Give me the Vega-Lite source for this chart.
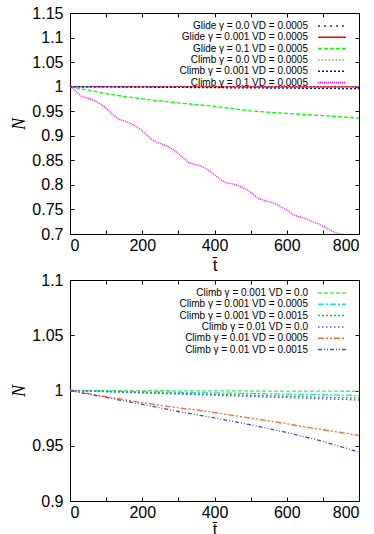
{
  "$schema": "https://vega.github.io/schema/vega-lite/v6.json",
  "padding": {"left": 10, "top": 4, "right": 5, "bottom": 0},
  "autosize": {"type": "pad"},
  "config": {
    "font": "Liberation Sans",
    "view": {"stroke": "#000000", "strokeWidth": 1},
    "axis": {"grid": false, "domain": false, "tickColor": "#000000", "tickSize": -4, "tickWidth": 1, "labelFontSize": 16, "labelColor": "#000000", "labelPadding": 11, "titleFontWeight": "normal", "titleColor": "#000000"},
    "legend": {"orient": "none", "legendX": 256, "legendY": 7, "symbolType": "M-2.8,0H2.8", "symbolSize": 100, "symbolStrokeWidth": 1.5, "symbolFillColor": "transparent", "labelFontSize": 10, "labelColor": "#000000", "labelAlign": "right", "labelOffset": -30, "rowPadding": 0.3, "padding": 0, "labelLimit": 300}
  },
  "datasets": {
    "top": [
      {"t": 0, "N": 1.0, "series": "Glide γ = 0.0 VD = 0.0005"},
      {"t": 800, "N": 1.0, "series": "Glide γ = 0.0 VD = 0.0005"},
      {"t": 0, "N": 1.0, "series": "Glide γ = 0.001 VD = 0.0005"},
      {"t": 800, "N": 0.9998, "series": "Glide γ = 0.001 VD = 0.0005"},
      {"t": 0, "N": 1.0, "series": "Glide γ = 0.1 VD = 0.0005"},
      {"t": 25, "N": 0.9965, "series": "Glide γ = 0.1 VD = 0.0005"},
      {"t": 50, "N": 0.993, "series": "Glide γ = 0.1 VD = 0.0005"},
      {"t": 100, "N": 0.986, "series": "Glide γ = 0.1 VD = 0.0005"},
      {"t": 150, "N": 0.980, "series": "Glide γ = 0.1 VD = 0.0005"},
      {"t": 200, "N": 0.975, "series": "Glide γ = 0.1 VD = 0.0005"},
      {"t": 300, "N": 0.967, "series": "Glide γ = 0.1 VD = 0.0005"},
      {"t": 400, "N": 0.960, "series": "Glide γ = 0.1 VD = 0.0005"},
      {"t": 500, "N": 0.9505, "series": "Glide γ = 0.1 VD = 0.0005"},
      {"t": 600, "N": 0.9455, "series": "Glide γ = 0.1 VD = 0.0005"},
      {"t": 700, "N": 0.941, "series": "Glide γ = 0.1 VD = 0.0005"},
      {"t": 800, "N": 0.936, "series": "Glide γ = 0.1 VD = 0.0005"},
      {"t": 0, "N": 1.0, "series": "Climb γ = 0.0 VD = 0.0005"},
      {"t": 800, "N": 1.0, "series": "Climb γ = 0.0 VD = 0.0005"},
      {"t": 0, "N": 1.0, "series": "Climb γ = 0.001 VD = 0.0005"},
      {"t": 400, "N": 0.998, "series": "Climb γ = 0.001 VD = 0.0005"},
      {"t": 800, "N": 0.996, "series": "Climb γ = 0.001 VD = 0.0005"},
      {"t": 0, "N": 1.0, "series": "Climb γ = 0.1 VD = 0.0005"},
      {"t": 10, "N": 0.995, "series": "Climb γ = 0.1 VD = 0.0005"},
      {"t": 20, "N": 0.988, "series": "Climb γ = 0.1 VD = 0.0005"},
      {"t": 30, "N": 0.981, "series": "Climb γ = 0.1 VD = 0.0005"},
      {"t": 45, "N": 0.977, "series": "Climb γ = 0.1 VD = 0.0005"},
      {"t": 60, "N": 0.974, "series": "Climb γ = 0.1 VD = 0.0005"},
      {"t": 75, "N": 0.969, "series": "Climb γ = 0.1 VD = 0.0005"},
      {"t": 90, "N": 0.962, "series": "Climb γ = 0.1 VD = 0.0005"},
      {"t": 105, "N": 0.953, "series": "Climb γ = 0.1 VD = 0.0005"},
      {"t": 120, "N": 0.942, "series": "Climb γ = 0.1 VD = 0.0005"},
      {"t": 135, "N": 0.934, "series": "Climb γ = 0.1 VD = 0.0005"},
      {"t": 150, "N": 0.930, "series": "Climb γ = 0.1 VD = 0.0005"},
      {"t": 165, "N": 0.926, "series": "Climb γ = 0.1 VD = 0.0005"},
      {"t": 180, "N": 0.920, "series": "Climb γ = 0.1 VD = 0.0005"},
      {"t": 195, "N": 0.913, "series": "Climb γ = 0.1 VD = 0.0005"},
      {"t": 210, "N": 0.903, "series": "Climb γ = 0.1 VD = 0.0005"},
      {"t": 225, "N": 0.893, "series": "Climb γ = 0.1 VD = 0.0005"},
      {"t": 240, "N": 0.887, "series": "Climb γ = 0.1 VD = 0.0005"},
      {"t": 255, "N": 0.883, "series": "Climb γ = 0.1 VD = 0.0005"},
      {"t": 270, "N": 0.879, "series": "Climb γ = 0.1 VD = 0.0005"},
      {"t": 285, "N": 0.872, "series": "Climb γ = 0.1 VD = 0.0005"},
      {"t": 300, "N": 0.864, "series": "Climb γ = 0.1 VD = 0.0005"},
      {"t": 315, "N": 0.854, "series": "Climb γ = 0.1 VD = 0.0005"},
      {"t": 330, "N": 0.845, "series": "Climb γ = 0.1 VD = 0.0005"},
      {"t": 345, "N": 0.842, "series": "Climb γ = 0.1 VD = 0.0005"},
      {"t": 360, "N": 0.839, "series": "Climb γ = 0.1 VD = 0.0005"},
      {"t": 375, "N": 0.834, "series": "Climb γ = 0.1 VD = 0.0005"},
      {"t": 390, "N": 0.826, "series": "Climb γ = 0.1 VD = 0.0005"},
      {"t": 405, "N": 0.818, "series": "Climb γ = 0.1 VD = 0.0005"},
      {"t": 420, "N": 0.809, "series": "Climb γ = 0.1 VD = 0.0005"},
      {"t": 435, "N": 0.804, "series": "Climb γ = 0.1 VD = 0.0005"},
      {"t": 450, "N": 0.802, "series": "Climb γ = 0.1 VD = 0.0005"},
      {"t": 465, "N": 0.799, "series": "Climb γ = 0.1 VD = 0.0005"},
      {"t": 480, "N": 0.794, "series": "Climb γ = 0.1 VD = 0.0005"},
      {"t": 495, "N": 0.788, "series": "Climb γ = 0.1 VD = 0.0005"},
      {"t": 510, "N": 0.779, "series": "Climb γ = 0.1 VD = 0.0005"},
      {"t": 525, "N": 0.771, "series": "Climb γ = 0.1 VD = 0.0005"},
      {"t": 540, "N": 0.768, "series": "Climb γ = 0.1 VD = 0.0005"},
      {"t": 555, "N": 0.765, "series": "Climb γ = 0.1 VD = 0.0005"},
      {"t": 570, "N": 0.761, "series": "Climb γ = 0.1 VD = 0.0005"},
      {"t": 585, "N": 0.755, "series": "Climb γ = 0.1 VD = 0.0005"},
      {"t": 600, "N": 0.749, "series": "Climb γ = 0.1 VD = 0.0005"},
      {"t": 615, "N": 0.741, "series": "Climb γ = 0.1 VD = 0.0005"},
      {"t": 630, "N": 0.736, "series": "Climb γ = 0.1 VD = 0.0005"},
      {"t": 645, "N": 0.733, "series": "Climb γ = 0.1 VD = 0.0005"},
      {"t": 660, "N": 0.729, "series": "Climb γ = 0.1 VD = 0.0005"},
      {"t": 675, "N": 0.724, "series": "Climb γ = 0.1 VD = 0.0005"},
      {"t": 690, "N": 0.720, "series": "Climb γ = 0.1 VD = 0.0005"},
      {"t": 705, "N": 0.714, "series": "Climb γ = 0.1 VD = 0.0005"},
      {"t": 720, "N": 0.708, "series": "Climb γ = 0.1 VD = 0.0005"},
      {"t": 735, "N": 0.703, "series": "Climb γ = 0.1 VD = 0.0005"},
      {"t": 750, "N": 0.700, "series": "Climb γ = 0.1 VD = 0.0005"},
      {"t": 765, "N": 0.698, "series": "Climb γ = 0.1 VD = 0.0005"},
      {"t": 780, "N": 0.694, "series": "Climb γ = 0.1 VD = 0.0005"},
      {"t": 800, "N": 0.688, "series": "Climb γ = 0.1 VD = 0.0005"}
    ],
    "bottom": [
      {"t": 0, "N": 1.0, "series": "Climb γ = 0.001 VD = 0.0"},
      {"t": 800, "N": 0.9993, "series": "Climb γ = 0.001 VD = 0.0"},
      {"t": 0, "N": 1.0, "series": "Climb γ = 0.001 VD = 0.0005"},
      {"t": 200, "N": 0.9989, "series": "Climb γ = 0.001 VD = 0.0005"},
      {"t": 400, "N": 0.9978, "series": "Climb γ = 0.001 VD = 0.0005"},
      {"t": 600, "N": 0.9967, "series": "Climb γ = 0.001 VD = 0.0005"},
      {"t": 800, "N": 0.9956, "series": "Climb γ = 0.001 VD = 0.0005"},
      {"t": 0, "N": 1.0, "series": "Climb γ = 0.001 VD = 0.0015"},
      {"t": 200, "N": 0.9982, "series": "Climb γ = 0.001 VD = 0.0015"},
      {"t": 400, "N": 0.9965, "series": "Climb γ = 0.001 VD = 0.0015"},
      {"t": 600, "N": 0.9948, "series": "Climb γ = 0.001 VD = 0.0015"},
      {"t": 800, "N": 0.993, "series": "Climb γ = 0.001 VD = 0.0015"},
      {"t": 0, "N": 1.0, "series": "Climb γ = 0.01 VD = 0.0"},
      {"t": 200, "N": 0.9978, "series": "Climb γ = 0.01 VD = 0.0"},
      {"t": 400, "N": 0.9957, "series": "Climb γ = 0.01 VD = 0.0"},
      {"t": 600, "N": 0.9935, "series": "Climb γ = 0.01 VD = 0.0"},
      {"t": 800, "N": 0.9914, "series": "Climb γ = 0.01 VD = 0.0"},
      {"t": 0, "N": 1.0, "series": "Climb γ = 0.01 VD = 0.0005"},
      {"t": 50, "N": 0.9972, "series": "Climb γ = 0.01 VD = 0.0005"},
      {"t": 100, "N": 0.9945, "series": "Climb γ = 0.01 VD = 0.0005"},
      {"t": 150, "N": 0.9918, "series": "Climb γ = 0.01 VD = 0.0005"},
      {"t": 200, "N": 0.989, "series": "Climb γ = 0.01 VD = 0.0005"},
      {"t": 250, "N": 0.9866, "series": "Climb γ = 0.01 VD = 0.0005"},
      {"t": 300, "N": 0.9842, "series": "Climb γ = 0.01 VD = 0.0005"},
      {"t": 350, "N": 0.9825, "series": "Climb γ = 0.01 VD = 0.0005"},
      {"t": 400, "N": 0.980, "series": "Climb γ = 0.01 VD = 0.0005"},
      {"t": 450, "N": 0.9775, "series": "Climb γ = 0.01 VD = 0.0005"},
      {"t": 500, "N": 0.975, "series": "Climb γ = 0.01 VD = 0.0005"},
      {"t": 550, "N": 0.9725, "series": "Climb γ = 0.01 VD = 0.0005"},
      {"t": 600, "N": 0.970, "series": "Climb γ = 0.01 VD = 0.0005"},
      {"t": 650, "N": 0.967, "series": "Climb γ = 0.01 VD = 0.0005"},
      {"t": 700, "N": 0.9645, "series": "Climb γ = 0.01 VD = 0.0005"},
      {"t": 750, "N": 0.962, "series": "Climb γ = 0.01 VD = 0.0005"},
      {"t": 800, "N": 0.9594, "series": "Climb γ = 0.01 VD = 0.0005"},
      {"t": 0, "N": 1.0, "series": "Climb γ = 0.01 VD = 0.0015"},
      {"t": 100, "N": 0.9937, "series": "Climb γ = 0.01 VD = 0.0015"},
      {"t": 200, "N": 0.9875, "series": "Climb γ = 0.01 VD = 0.0015"},
      {"t": 300, "N": 0.981, "series": "Climb γ = 0.01 VD = 0.0015"},
      {"t": 400, "N": 0.9752, "series": "Climb γ = 0.01 VD = 0.0015"},
      {"t": 500, "N": 0.969, "series": "Climb γ = 0.01 VD = 0.0015"},
      {"t": 600, "N": 0.962, "series": "Climb γ = 0.01 VD = 0.0015"},
      {"t": 700, "N": 0.954, "series": "Climb γ = 0.01 VD = 0.0015"},
      {"t": 800, "N": 0.9443, "series": "Climb γ = 0.01 VD = 0.0015"}
    ]
  },
  "bounds": "flush",
  "spacing": 46,
  "resolve": {"scale": {"color": "independent", "strokeDash": "independent"}, "legend": {"color": "independent", "strokeDash": "independent"}},
  "vconcat": [
    {
      "width": 289,
      "height": 221,
      "data": {"name": "top"},
      "layer": [
        {
          "mark": {"type": "line", "clip": true, "strokeWidth": 1.3},
          "encoding": {
            "x": {"field": "t", "type": "quantitative", "scale": {"domain": [0, 800], "nice": false}, "axis": {"values": [0, 100, 200, 300, 400, 500, 600, 700, 800], "title": "t̄", "titleFontSize": 17, "titlePadding": 4, "labelPadding": 7}},
            "y": {"field": "N", "type": "quantitative", "scale": {"domain": [0.7, 1.15], "nice": false, "zero": false}, "axis": {"values": [0.7, 0.75, 0.8, 0.85, 0.9, 0.95, 1, 1.05, 1.1, 1.15], "format": ".2~f", "title": "N", "titleFont": "Liberation Serif", "titleFontStyle": "italic", "titleFontSize": 18, "titlePadding": 3}},
            "color": {"field": "series", "type": "nominal", "scale": {"domain": ["Glide γ = 0.0 VD = 0.0005", "Glide γ = 0.001 VD = 0.0005", "Glide γ = 0.1 VD = 0.0005", "Climb γ = 0.0 VD = 0.0005", "Climb γ = 0.001 VD = 0.0005", "Climb γ = 0.1 VD = 0.0005"], "range": ["#333333", "#ff0000", "#00ff00", "#999999", "#0000ff", "#ff00ff"]}, "legend": {"title": null}},
            "strokeDash": {"field": "series", "type": "nominal", "scale": {"domain": ["Glide γ = 0.0 VD = 0.0005", "Glide γ = 0.001 VD = 0.0005", "Glide γ = 0.1 VD = 0.0005", "Climb γ = 0.0 VD = 0.0005", "Climb γ = 0.001 VD = 0.0005", "Climb γ = 0.1 VD = 0.0005"], "range": [[2, 4], [1, 0], [4, 2], [1.5, 2], [2, 2], [1, 1]]}, "legend": {"title": null}}
          }
        },
        {
          "mark": {"type": "point", "opacity": 0, "clip": true},
          "encoding": {
            "x": {"field": "t", "type": "quantitative", "scale": {"domain": [0, 800], "nice": false}, "axis": {"orient": "top", "values": [0, 100, 200, 300, 400, 500, 600, 700, 800], "labels": false, "title": null}},
            "y": {"field": "N", "type": "quantitative", "scale": {"domain": [0.7, 1.15], "nice": false, "zero": false}, "axis": {"orient": "right", "values": [0.7, 0.75, 0.8, 0.85, 0.9, 0.95, 1, 1.05, 1.1, 1.15], "labels": false, "title": null}}
          }
        }
      ],
      "resolve": {"axis": {"x": "independent", "y": "independent"}}
    },
    {
      "width": 289,
      "height": 221,
      "data": {"name": "bottom"},
      "layer": [
        {
          "mark": {"type": "line", "clip": true, "strokeWidth": 1.3},
          "encoding": {
            "x": {"field": "t", "type": "quantitative", "scale": {"domain": [0, 800], "nice": false}, "axis": {"values": [0, 100, 200, 300, 400, 500, 600, 700, 800], "title": "t̄", "titleFontSize": 16, "titlePadding": 1, "labelPadding": 7}},
            "y": {"field": "N", "type": "quantitative", "scale": {"domain": [0.9, 1.1], "nice": false, "zero": false}, "axis": {"values": [0.9, 0.95, 1, 1.05, 1.1], "format": ".2~f", "title": "N", "titleFont": "Liberation Serif", "titleFontStyle": "italic", "titleFontSize": 18, "titlePadding": 3}},
            "color": {"field": "series", "type": "nominal", "scale": {"domain": ["Climb γ = 0.001 VD = 0.0", "Climb γ = 0.001 VD = 0.0005", "Climb γ = 0.001 VD = 0.0015", "Climb γ = 0.01 VD = 0.0", "Climb γ = 0.01 VD = 0.0005", "Climb γ = 0.01 VD = 0.0015"], "range": ["#55e855", "#22dddd", "#33bb33", "#4455ee", "#ff6633", "#3355bb"]}, "legend": {"title": null, "legendY": 7}},
            "strokeDash": {"field": "series", "type": "nominal", "scale": {"domain": ["Climb γ = 0.001 VD = 0.0", "Climb γ = 0.001 VD = 0.0005", "Climb γ = 0.001 VD = 0.0015", "Climb γ = 0.01 VD = 0.0", "Climb γ = 0.01 VD = 0.0005", "Climb γ = 0.01 VD = 0.0015"], "range": [[4, 2], [6, 2, 2, 2], [2, 2], [1.5, 2.5], [6, 2, 2, 2, 2, 2], [4, 2, 1, 2, 1, 2]]}, "legend": {"title": null, "legendY": 7}}
          }
        },
        {
          "mark": {"type": "point", "opacity": 0, "clip": true},
          "encoding": {
            "x": {"field": "t", "type": "quantitative", "scale": {"domain": [0, 800], "nice": false}, "axis": {"orient": "top", "values": [0, 100, 200, 300, 400, 500, 600, 700, 800], "labels": false, "title": null}},
            "y": {"field": "N", "type": "quantitative", "scale": {"domain": [0.9, 1.1], "nice": false, "zero": false}, "axis": {"orient": "right", "values": [0.9, 0.95, 1, 1.05, 1.1], "labels": false, "title": null}}
          }
        }
      ],
      "resolve": {"axis": {"x": "independent", "y": "independent"}}
    }
  ]
}
